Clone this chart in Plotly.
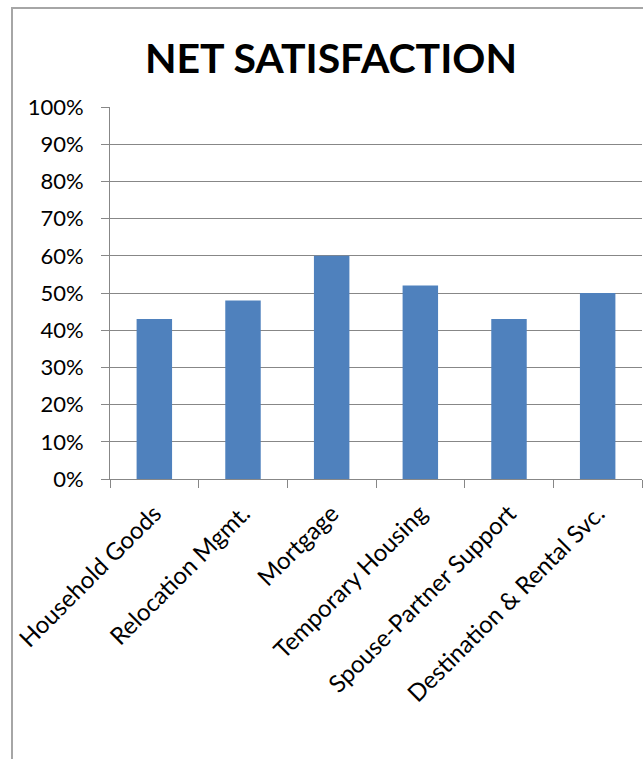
import plotly.graph_objects as go

categories = ["Household Goods", "Relocation Mgmt.", "Mortgage", "Temporary Housing",
              "Spouse-Partner Support", "Destination & Rental Svc."]
values = [0.43, 0.48, 0.60, 0.52, 0.43, 0.50]
y_ticks = [i / 10 for i in range(11)]
y_tick_labels = [f"{i*10}%" for i in range(11)]

W, H = 643, 759
L, R, T, B = 110, 1, 107, 280
pw, ph = W - L - R, H - T - B

fig = go.Figure(go.Bar(x=categories, y=values, marker_color="#4F81BD",
                       marker_line_width=0, width=0.4))

grid = "#878787"
font = "Lato, Open Sans, sans-serif"
fig.update_layout(
    width=W, height=H, margin=dict(l=L, r=R, t=T, b=B),
    paper_bgcolor="white", plot_bgcolor="white",
    showlegend=False,
    font=dict(family=font, color="black", size=22),
    title=dict(text="<b>NET SATISFACTION</b>", x=331 / W,
               xanchor="center", y=1 - 59 / H, yanchor="middle",
               font=dict(family=font, size=41, color="black")),
    bargap=0.6,
)
fig.update_yaxes(range=[0, 1], tickvals=y_ticks, ticktext=y_tick_labels,
                 showgrid=True, gridcolor=grid, gridwidth=1,
                 showline=True, linecolor=grid, linewidth=1,
                 ticks="outside", ticklen=8, tickcolor=grid,
                 ticklabelstandoff=13, zeroline=False, fixedrange=True,
                 tickfont=dict(size=22))
fig.update_xaxes(tickangle=-45, showline=True, linecolor=grid, linewidth=1,
                 ticks="outside", ticklen=8, tickcolor=grid, tickson="boundaries",
                 showgrid=False, ticklabelstandoff=10, tickfont=dict(size=24))

# outer chart border
x0 = (12 - L) / pw
y1 = 1 + (T - 8) / ph
y0 = -(H - T) / ph
fig.add_shape(type="rect", xref="paper", yref="paper", x0=x0, x1=1 + 5 / pw, y0=y0 - 0.05, y1=y1,
              line=dict(color="#A6A6A6", width=2), fillcolor="rgba(0,0,0,0)", layer="below")

fig.write_html("out.html")
